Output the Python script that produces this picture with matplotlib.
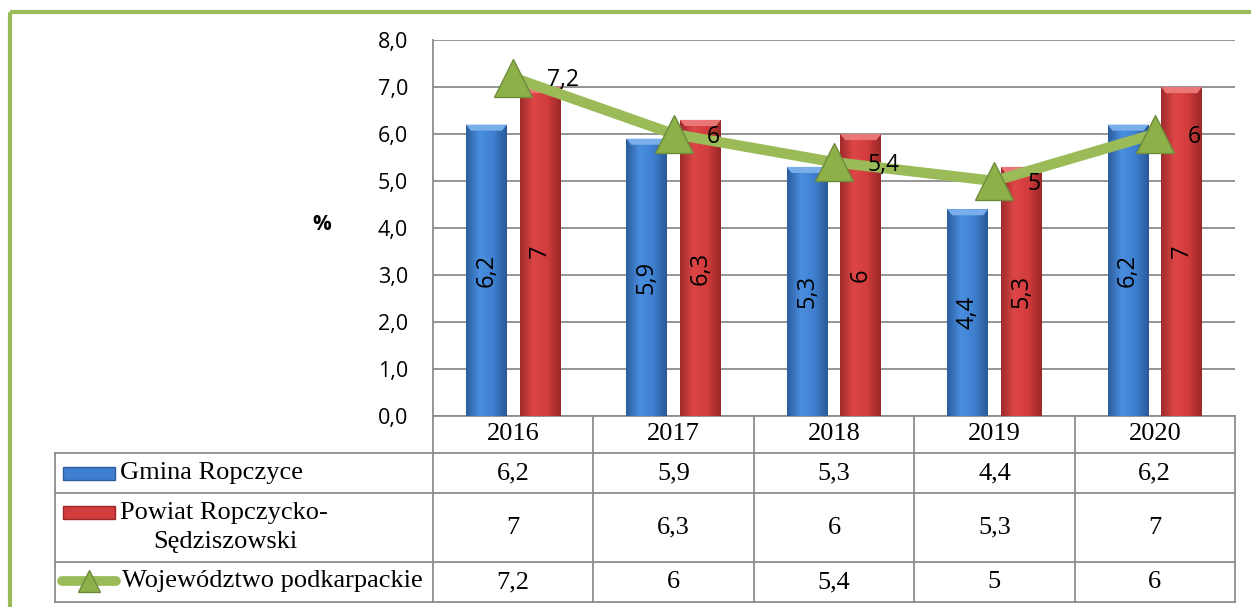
import matplotlib
matplotlib.use('Agg')
import matplotlib.pyplot as plt
import matplotlib.transforms as mtransforms
from matplotlib.colors import LinearSegmentedColormap
from matplotlib.patches import Rectangle, Polygon
import numpy as np

plt.rcParams['font.family'] = ['Open Sans', 'DejaVu Sans']

years = ['2016', '2017', '2018', '2019', '2020']
gmina = [6.2, 5.9, 5.3, 4.4, 6.2]
powiat = [7, 6.3, 6, 5.3, 7]
woj = [7.2, 6, 5.4, 5, 6]
names = ['Gmina Ropczyce', 'Powiat Ropczycko-', 'Sędziszowski', 'Województwo podkarpackie']
yticks = [0, 1, 2, 3, 4, 5, 6, 7, 8]

SERIF = 'Liberation Serif'
GREEN = '#9BBB59'
GRID = '#8C8C8C'


def pl(v):
    return ('%g' % v).replace('.', ',')


W, H = 1251, 607
fig = plt.figure(figsize=(W / 100, H / 100), dpi=100)


def box(l, t, r, b):
    return [l / W, 1 - b / H, (r - l) / W, (b - t) / H]


ov = fig.add_axes([0, 0, 1, 1])
ov.set_xlim(0, W)
ov.set_ylim(H, 0)
ov.axis('off')

ax = fig.add_axes(box(433, 40, 1235, 416))
ax.patch.set_alpha(0)

x = np.arange(len(years))
bw = 0.255
b1 = ax.bar(x - 0.167, gmina, bw, color='#3F7FD0', zorder=3)
b2 = ax.bar(x + 0.167, powiat, bw, color='#D23C3C', zorder=3)


def shade(bars, cols, light):
    cmap = LinearSegmentedColormap.from_list('g', cols)
    grad = np.linspace(0, 1, 64).reshape(1, -1)
    for p in bars:
        x0, y0 = p.get_x(), p.get_y()
        w, h = p.get_width(), p.get_height()
        im = ax.imshow(grad, cmap=cmap, extent=(x0, x0 + w, y0, y0 + h),
                       aspect='auto', zorder=3.5, interpolation='bicubic')
        im.set_clip_path(p)
        # small bevel on top
        d = w * 0.12
        bev = Polygon([(x0, y0 + h), (x0 + w, y0 + h), (x0 + w - d, y0 + h - 0.13),
                       (x0 + d, y0 + h - 0.13)], closed=True, color=light, zorder=3.6, lw=0)
        ax.add_patch(bev)


shade(b1, ['#2C5C9E', '#4A8EDF', '#3F80D0', '#2A5898'], '#79AEEA')
shade(b2, ['#A02B2B', '#DE4646', '#D23C3C', '#9A2828'], '#EB7676')

ax.set_xlim(-0.5, len(years) - 0.5)
ax.set_ylim(0, 8)
ax.set_aspect('auto')
ax.set_yticks(yticks)
ax.set_yticklabels([('%.1f' % t).replace('.', ',') for t in yticks])
ax.set_xticks([])
for s in ['top', 'right', 'bottom']:
    ax.spines[s].set_visible(False)
ax.spines['left'].set_color(GRID)
ax.spines['left'].set_linewidth(1.3)
ax.grid(axis='y', color=GRID, lw=1.3, zorder=0)
ax.set_axisbelow(True)
ax.tick_params(axis='y', length=0, pad=18, labelsize=15.5)

ax.bar_label(b1, labels=[pl(v) for v in gmina], label_type='center', rotation=90, fontsize=17, zorder=6)
ax.bar_label(b2, labels=[pl(v) for v in powiat], label_type='center', rotation=90, fontsize=17, zorder=6)

ax.plot(x, woj, color=GREEN, lw=7.5, marker='^', ms=28, mfc='#8DB048', mec='#6E8B3D',
        mew=1, zorder=5, clip_on=False)
for xi, v in zip(x, woj):
    ax.annotate(pl(v), (xi, v), xytext=(24, -2), textcoords='offset points',
                ha='left', va='center', fontsize=16.5, zorder=7)

# frame
ov.plot([10, 10], [11.5, H], color=GREEN, lw=3, solid_capstyle='butt')
ov.plot([10, W], [11.5, 11.5], color=GREEN, lw=3, solid_capstyle='butt')

ov.text(322, 224, '%', fontsize=15, fontweight='bold', ha='center', va='center')

# data table
tr = mtransforms.blended_transform_factory(ax.transData, ov.transData)
rows = [416, 453, 493, 562, 602]
ov.plot([433, 1235], [416, 416], color=GRID, lw=1.3)
for yy in rows[1:]:
    ov.plot([55, 1235], [yy, yy], color=GRID, lw=1.3)
ov.plot([55, 55], [453, 602], color=GRID, lw=1.3)
for i in range(len(years) + 1):
    ov.plot([i - 0.5, i - 0.5], [416, 602], color=GRID, lw=1.3, transform=tr)

centers = [(a + b) / 2 for a, b in zip(rows[:-1], rows[1:])]
for i, yr in enumerate(years):
    ov.text(i, centers[0], yr, transform=tr, ha='center', va='center', fontsize=19, family=SERIF)
for vals, cy in zip([gmina, powiat, woj], centers[1:]):
    for i, v in enumerate(vals):
        ov.text(i, cy, pl(v), transform=tr, ha='center', va='center', fontsize=19, family=SERIF)

ov.text(120, 473, names[0], ha='left', va='center', fontsize=19, family=SERIF)
ov.text(120, 513, names[1], ha='left', va='center', fontsize=19, family=SERIF)
ov.text(153, 542, names[2], ha='left', va='center', fontsize=19, family=SERIF)
ov.text(122, 581, names[3], ha='left', va='center', fontsize=19, family=SERIF)

# legend keys
ov.add_patch(Rectangle((63, 467), 52, 13, facecolor='#3F7FD0', edgecolor='#2C5C9E', lw=1))
ov.add_patch(Rectangle((63, 506), 52, 13, facecolor='#D23C3C', edgecolor='#9A2828', lw=1))
ov.plot([62, 116], [581, 581], color=GREEN, lw=7, solid_capstyle='round')
ov.plot([89], [581], marker='^', ms=16, mfc='#8DB048', mec='#6E8B3D', mew=1)

fig.savefig('out.png', dpi=100)
